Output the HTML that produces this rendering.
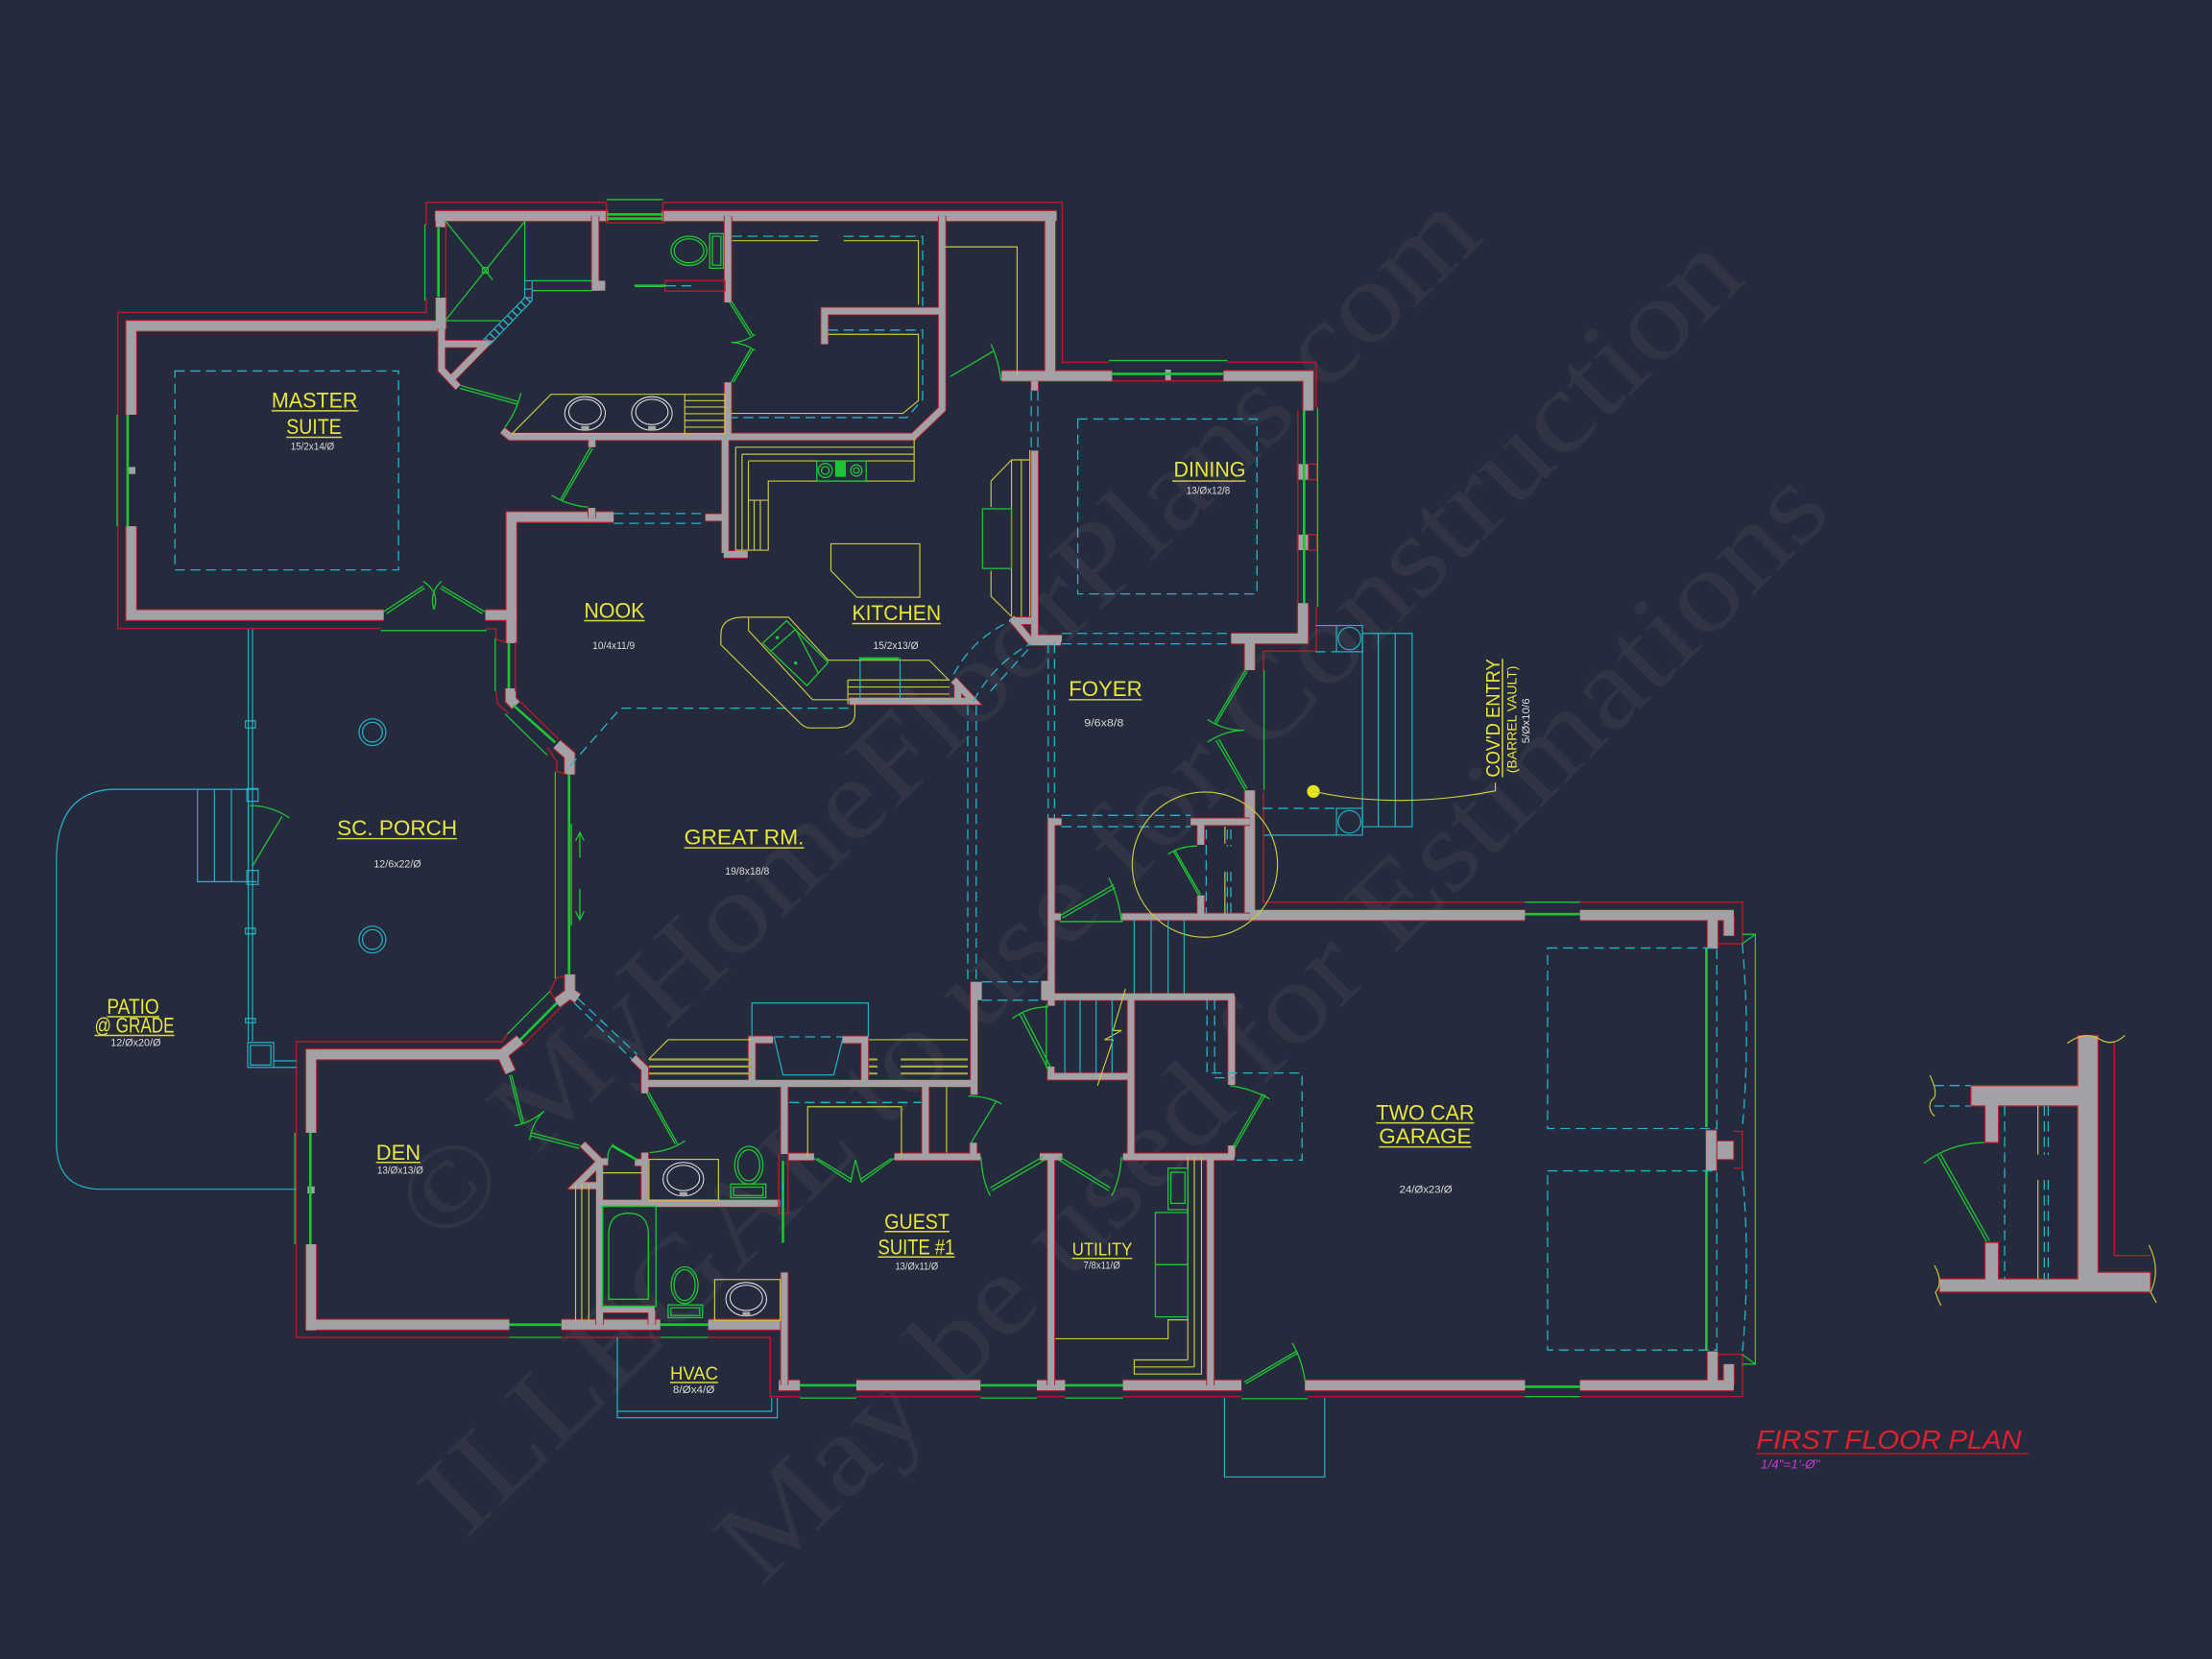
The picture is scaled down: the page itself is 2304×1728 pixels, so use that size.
<!DOCTYPE html>
<html><head><meta charset="utf-8"><title>First Floor Plan</title>
<style>
html,body{margin:0;padding:0;background:#252a3c}
svg{display:block}
text{font-family:"Liberation Sans",sans-serif}
.wm text{font-family:"Liberation Serif",serif;fill:#fff;fill-opacity:.05}
.lb{fill:#e6e63c;font-size:15px}
.dm{fill:#dcdcdc;font-size:7.5px}
.n{fill:none}
.r{fill:none;stroke:#b01c2a;stroke-width:1}
.g{fill:none;stroke:#1fc436;stroke-width:.9}
.G{fill:none;stroke:#1fc436;stroke-width:1.8}
.y{fill:none;stroke:#c9c940;stroke-width:.8}
.Y{fill:none;stroke:#a8a83c;stroke-width:1.5}
.t{fill:none;stroke:#25b4c6;stroke-width:.8}
.d{fill:none;stroke:#25b4c6;stroke-width:.9;stroke-dasharray:7 4}
.w{fill:none;stroke:#e4e4e4;stroke-width:.7}
.u{fill:none;stroke:#d8d83c;stroke-width:1}
</style></head><body>
<svg xmlns="http://www.w3.org/2000/svg" width="2304" height="1728" viewBox="0 0 1568 1176">
<rect width="1568" height="1176" fill="#252a3c"/>
<g class="wm" font-size="82">
<text transform="translate(312,885) rotate(-44)" textLength="1030" lengthAdjust="spacingAndGlyphs">© MyHomeFloorPlans.com</text>
<text transform="translate(330,1092) rotate(-44.5)" textLength="1275" lengthAdjust="spacingAndGlyphs">ILLEGAL to use for Construction</text>
<text transform="translate(540,1125) rotate(-45)" textLength="1075" lengthAdjust="spacingAndGlyphs">May be used for Estimations</text>
</g>
<defs>
<g id="W1">
<path d="M308.500,153.100H431M469,153.100H749M744.400,153V266"/>
<path d="M316,231H93V294M93,373V436H272"/>
<path d="M710,266.500H788.300M867.300,266.500H927.400V291M923.600,329V340M923.600,379V390M923.600,427.600V452.600H872.700"/>
<path d="M885.900,452V475M885.900,560.300V648"/>
<path d="M885,648.700H1081M1120,648.700H1229M1225.500,648.700V663.400"/>
<path d="M1214,652V672.500"/>
<path d="M1214,958V982M1225.500,967V982"/>
<path d="M1229,982H1120M1081,982H925M880,982H796M755,982H735M695,982H607M567,982H552"/>
<path d="M220.500,943V882M220.500,803V747.400H356L368.700,737M356,747.400L361.900,760"/>
<path d="M217,939H361M398,939H468M502,939H556"/>
<path d="M344,436H366"/>
<path d="M362.500,456V366.500H435"/>
<path d="M312.500,150V161M312.500,211V233"/>
<path d="M362,488V496L365.700,500M394.700,527.500L403.800,535.400V549"/>
<path d="M404,690.700V704L394.700,711M404,704L409.500,707.700"/>
</g>
<g id="W2">
<path d="M313,233V262L324.800,274.500"/>
<path d="M314,243.800H344.300L319.800,268.800"/>
<path d="M421.900,153V206"/>
<path d="M419.600,202.500H429" stroke-width="7"/>
<path d="M516,153V214.400M516,271V310"/>
<path d="M667.800,153V290L647.400,309.600H361.800L356.100,305"/>
<path d="M584.500,244V220.500H668"/>
<path d="M419.600,311V317M419.500,360V367"/>
<path d="M500,366.800H516"/>
<path d="M514,311V392M513,393H530"/>
<path d="M449,749.700L457.100,757.600V775"/>
<path d="M457,768H691"/>
<path d="M533,768V737H548M613,768V737H597"/>
<path d="M690.500,696V776M690,810V822"/>
<path d="M556,768V818M559,820H577M634,820H695"/>
<path d="M656,768V820"/>
<path d="M556,902V982"/>
<path d="M739,706.600H875M873,706V769M873,812V820"/>
<path d="M801.700,706V820M796,820H875"/>
<path d="M745.200,580V713M745,756V763H802"/>
<path d="M745,820V982M737,820H753"/>
<path d="M858,820V982"/>
<path d="M747,649.900H752M795.100,649.900H886"/>
<path d="M743,582.500H752.500M844,582.500H886M851.200,582V598.900M851.200,634.700V650"/>
<path d="M733.400,270V276.800M733.400,319.400V452.600H752.700M717,440H731M717,438L731,455H752M676,482L690,497H602M679,484V497"/>
<path d="M425,823.500V939M425,853H553M457.100,817V853M412.900,811L425.400,823.500H431M425.400,823.500L408.400,840.400H425M450,824H455"/>
<path d="M425,928H464M462,929V939"/>
</g>
</defs>
<g class="n" stroke="#b01c2a" stroke-width="8.6"><use href="#W1"/></g>
<g class="n" stroke="#a3a1a6" stroke-width="7"><use href="#W1"/></g>
<g class="n" stroke="#b01c2a" stroke-width="6"><use href="#W2"/></g>
<g class="n" stroke="#a3a1a6" stroke-width="4.700"><use href="#W2"/></g>
<rect x="1209" y="801" width="8" height="29" fill="#a3a1a6" stroke="#b01c2a" stroke-width=".7"/>
<rect x="1217" y="808.700" width="12" height="13.300" fill="#a3a1a6" stroke="#b01c2a" stroke-width=".7"/>
<rect x="690" y="696" width="6" height="13" fill="#a3a1a6"/>
<rect x="738" y="695.300" width="9.500" height="13.600" fill="#a3a1a6"/>
<rect x="91" y="331" width="5" height="5" fill="#a3a1a6"/>
<rect x="826" y="262" width="4" height="8" fill="#a3a1a6"/>
<rect x="218" y="841" width="5" height="5" fill="#a3a1a6"/>
<path class="r" d="M302.100,211V221.500H83.500V445.500H270M302.100,160V143.400H429.900M470,143.400H753V256.800H786M870,256.800H933V289M933,430V461.600H895.600V475M895.600,561.400V639.500H1081M1120,639.500H1235.200V669H1217.800M1217.800,960H1235.200V990H1120M1081,990H927M880,990H796M755,990H735M695,990H607M567,990H546V948H502M468,948H398M361,948H210V738.400H356L359.600,733M344,445.800H351.600V453.300L358.500,455"/>
<path class="r" d="M351.600,490L352.800,499L360.700,506M388,529.700L394.700,540V546.800L401.600,549M365.300,455V490M368.700,497.300L396,524M400,691.900L394.700,693L389.800,702.700L393.600,708.900M397,714.500L369.800,741.800M920,291V427.600M927.400,329H933.500V340H927.400M927.400,379H933.500V390H927.400M788.300,270H867.300M316,157V211"/>
<path class="r" d="M471.400,199H513.800V206.400H471.400ZM552,818V860H558.600V818M1229,802H1235V828H1229M429.900,143.400V158H470V143.400"/>
<path class="g" d="M430,141.500H470M786,255.600H870M1081,639.500H1120M1081,990H1120M796,991H755M695,991H735M567,991H607M880,991.500H927M398,948H361M468,948H502M83,294V373M934,289V430M209,803V882M270,447H345M351,452.600V490M358,506L388,535.400M393.600,547V693.700M389.800,702.700L359.600,733M896,475V560M301.200,158.800V213"/>
<path class="G" d="M430,152H470M430,155H470M788,265H867M1081,648H1120M1081,983H1120M755,982H796M695,982H735M567,982H607M361,939H398M468,939H502M90.500,294V373M924.400,291V427.600M220,803V882M310.800,161.500V210.500M360.700,455.600V488M364,500L393.600,526.300M403.400,549V690.700M394.700,711L368.700,737.200M1209.600,672V799M1209.600,830V957"/>
<path class="g" d="M411,590V608M408,596L411,590L414,596M411,630V652M408,646L411,652L414,646M405,584V656"/>
<path class="g" d="M316,157L344.100,191.700L372,157M316,226.800L344.100,191.700L349.300,198.500M372,157V199.600M316,227.300H355M377.700,199H419.600M377.700,206H419.600"/>
<rect class="g" x="342" y="189.600" width="4" height="4"/>
<path class="t" d="M372,199H377.200V213L347,244.500M372,199V211L342.500,241M372,205H377.200M372,211H377.200"/>
<path d="M374.500,212L344.800,243" fill="none" stroke="#25b4c6" stroke-width="5" stroke-dasharray="1 3.500"/>
<path class="G" d="M449.800,202.600H472"/>
<path class="d" d="M472,202.600H494" stroke-width="1.800" stroke-dasharray="8 6"/>
<path class="g" d="M272,433.600L300,415.400M274,435L301,417M343.600,433.600L313,415.400M342,435L312,417M300,412Q312,420 307.600,432M313,412Q304,420 307.600,432"/>
<path class="g" d="M326.600,273.300L367.500,284.700M326,275.300L367,286.700M369.300,278.600Q366,292 358,302.800"/>
<path class="g" d="M517.200,214.400L532,238M518.800,214L533.600,237.500M535.300,237Q527,243 518.300,242.700Q527,243 535.300,248.400M518.300,271L532,247.300M520,271L533.600,247.800"/>
<path class="g" d="M418.500,317L397,354.600M420,318L398.500,355M391,351Q402,358 417,359.500"/>
<path class="g" d="M673.500,267L704,249M702.500,244Q708,256 709.500,269.500"/>
<path class="g" d="M179,614L200,578.600M177,571Q192,571 205,579.700M176,571V615"/>
<path class="g" d="M361.200,762L369.800,796.700M362.700,762L371.300,796.300M364.800,798Q376,796 385.700,787.600M376.600,803L411,812M376,805L410.500,814M385.700,787.600Q377,796 375.500,808"/>
<path class="g" d="M458.300,774.700L478.700,811M460,774.700L480.400,811M485.500,808.700Q475,816 460.500,817"/>
<path class="G" d="M451.500,822.300L433.800,812"/><path class="g" d="M435,811Q430,816 431,822.300"/>
<path class="g" d="M577,821L603,838M579,821L604,836M634,821L610.700,838M632,821L610,836M603,838L606.400,822L610.700,838"/>
<path class="g" d="M688,810.600L706,781M710,782.500Q700,777 686.500,777"/>
<path class="g" d="M739,820L702,842M741,822L703,844M702,847.700Q696,836 695.400,820M751,820L787,842M750,822L786,844M788,847.700Q794,836 795,820"/>
<path class="g" d="M743,758L722.800,718.800M745,757L725,718M717.700,722Q728,714 743,713.700M741.700,712V757"/>
<path class="g" d="M752,648.800L789.500,627.200M753,650.800L790.500,629.200M786,622.200Q793,636 795,653.300M751,653.300H795.800"/>
<path class="g" d="M850,635L832,603.600M851,634L833,603M828,605.500Q836,600 848.600,599.700"/>
<path class="g" d="M883,474.700L861,511.800M884,476L862,513M883,560.600L862,524.700M884,559L864,524M856,510Q868,518 881.800,517.600Q868,518 856,526"/>
<path class="g" d="M874,812.600L895.400,775.400M875,814L897,776M872,769.600Q888,772 900,779"/>
<path class="g" d="M881.800,979.700L919,957.800M883,981L920,959M916,952Q923,964 925,978.600"/>
<path class="g" d="M1235,662.300H1244.300V967H1235M1235,669L1244.300,662.300M1235,960L1244.300,967"/>
<path class="d" d="M1235,669Q1241,735 1235,800M1235,830Q1241,895 1235,960" stroke-dasharray="5 4"/>
<path class="G" d="M555,823V881" stroke-width="1.200"/>
<path class="d" d="M555,838V860" stroke-width="1.600"/>
<rect class="d" x="124" y="263" width="158.500" height="141"/>
<rect class="d" x="764" y="297" width="127" height="124"/>
<rect class="d" x="1097" y="672" width="120" height="128"/>
<rect class="d" x="1097" y="830" width="120" height="127"/>
<path class="d" d="M404,543L440,502H602M686,500V696M692,500V696M696,696H738M696,709H738M435,364H500M435,371H500"/>
<path class="d" d="M743,456V580M747.500,456V580M752.700,449H872.700M752.700,456.400H872.700M752.500,578H844M752.500,586H844"/>
<path class="d" d="M409.500,707.700L451.500,747.400M407.200,711.100L448,750.800"/>
<path class="d" d="M676,478Q690,452 717,440M690,497Q705,470 731,456M702,490L731,458" stroke-dasharray="5 4"/>
<path class="d" d="M519,167.500H580M598,167.500H654V217M587,234H654V283L643,296H518"/>
<path class="d" d="M559.500,781.500H653" stroke-width="1.400"/>
<path class="d" d="M855.600,709V760.600H923V822.300H875M861,709V764H875M855,588V648M870,588V600M872.500,588V600M870,618V648M872.500,618V648"/>
<path class="d" d="M548.700,735H597.700M731,277V319M735.700,277V319"/>
<path class="d" d="M895,573H947M932.600,462H947"/>
<path class="y" d="M519,170.600H580M598,170.600H651V216M587,237H651V284L640,293H518"/>
<path class="y" d="M670,175H721V266"/>
<path class="y" d="M390.600,279.500H513.800V307.400H363ZM485.400,279.500V307.400M485.400,284H513.800M485.400,288.500H513.800M485.400,293.300H513.800M485.400,298H513.800M485.400,302.800H513.800"/>
<path class="y" d="M521.500,317H648M526,322H648M530.500,326.700H648M648,311V341H544.600V390H521.500V317M526,322V390M530.500,327V390M530.500,354.600H544.600M534.600,354.600V390M539,354.600V390"/>
<path class="y" d="M589,385.500H652V423.400H607.500L589,404.500Z"/>
<path class="y" d="M717,326L702.500,341V359.500M702.500,404.500V422.700L717,437M717,326V437M724,326V437M730,319V437M717,326H730"/>
<path class="y" d="M526,437.500Q511,438 511,450V457L567.600,513Q571,516 574,516H591.400Q606,516 606,506V499M530.600,437.500V447L576,496H602M526,437.500H559L587,468H658.700L673,482.500M601,482H673M601,487H673M601,492H673M601,482V499"/>
<path class="y" d="M459.700,751L473.600,737H533M616,737H686"/>
<path class="Y" d="M460,751H533M460,756H533M460,761H533M616,751H622M616,756H622M616,761H622M638.500,751H686M638.500,756H686M638.500,761H686"/>
<path class="y" d="M671,770V817M572.500,820V784.500H639V820"/>
<path class="y" d="M408,840V936M412.400,840V936M417.400,840V936M427,831.400H455"/>
<rect class="y" x="460" y="821.800" width="49.300" height="29"/>
<rect class="y" x="506.600" y="907" width="46.400" height="29"/>
<path class="y" d="M842,820V964M846.600,820V969M851.700,820V974H804V964H842M804,969H846.600M748,949H828V935.600H842"/>
<path class="y" d="M797.800,701L789,730.500H795L783,737H789L778,769.600"/>
<circle class="y" cx="854.100" cy="612.900" r="51.500"/>
<path class="y" d="M868.300,586V598M868.300,618V648"/>
<ellipse class="w" cx="414.700" cy="293.100" rx="14.400" ry="11.900"/><ellipse class="w" cx="414.700" cy="292" rx="11.500" ry="9"/>
<ellipse class="w" cx="462.100" cy="293.100" rx="14.400" ry="11.900"/><ellipse class="w" cx="462.100" cy="292" rx="11.500" ry="9"/>
<rect x="412" y="302" width="5.500" height="3" fill="#a8a8a8"/><rect x="459.400" y="302" width="5.500" height="3" fill="#a8a8a8"/>
<ellipse class="w" cx="484.400" cy="835.900" rx="14.400" ry="11.900"/><ellipse class="w" cx="484.400" cy="835" rx="11.500" ry="9"/>
<ellipse class="w" cx="529" cy="921" rx="14.400" ry="11.900"/><ellipse class="w" cx="529" cy="920" rx="11.500" ry="9"/>
<rect x="481.700" y="845" width="5.500" height="3" fill="#a8a8a8"/><rect x="526.300" y="930" width="5.500" height="3" fill="#a8a8a8"/>
<ellipse class="g" cx="488.400" cy="177.800" rx="12.700" ry="10.400"/><ellipse class="g" cx="488.400" cy="177.800" rx="10.500" ry="8.500"/>
<rect class="g" x="503.100" y="165.600" width="9.600" height="24.500"/><rect class="g" x="505" y="167.500" width="6" height="20.500"/>
<rect class="g" x="579" y="326.700" width="35" height="14.300"/>
<circle class="g" cx="585" cy="333.500" r="5"/><circle class="g" cx="585" cy="333.500" r="2.800"/>
<circle class="g" cx="607" cy="333.500" r="4"/><circle class="g" cx="607" cy="333.500" r="2"/>
<rect x="592" y="327" width="7.600" height="11" fill="#1fc436"/>
<rect class="g" x="696.500" y="360.700" width="20.500" height="42.300"/>
<path class="g" d="M557.600,440L587,469.600L572,486L540.600,456ZM564,446L546,462M564,446L580,477M549,465"/>
<path class="G" d="M609,466.800H637"/>
<path class="t" d="M609.700,466V496M638,466V496"/>
<circle cx="551" cy="452" r="1.200" fill="#1fc436"/><circle cx="564" cy="470" r="1.200" fill="#1fc436"/>
<ellipse class="g" cx="530.800" cy="826" rx="10" ry="13.400"/><ellipse class="g" cx="530.800" cy="826" rx="7.800" ry="11"/>
<rect class="g" x="518" y="839.300" width="24.900" height="9.700"/><rect class="g" x="520" y="841.500" width="20.900" height="6"/>
<rect class="g" x="427" y="855" width="38" height="71"/>
<path class="g" d="M431.500,921V875Q431.500,860 445.500,860Q459.600,860 459.600,875V921Z"/>
<ellipse class="g" cx="485.300" cy="911" rx="9.500" ry="13"/><ellipse class="g" cx="485.300" cy="911" rx="7.500" ry="11"/>
<rect class="g" x="473.600" y="925" width="24.400" height="9"/><rect class="g" x="475.600" y="927" width="20.400" height="5.500"/>
<rect class="g" x="819" y="859.500" width="23" height="37"/><rect class="g" x="819" y="896.500" width="23" height="37"/>
<rect class="g" x="828" y="828" width="14" height="29.500"/><rect class="g" x="830" y="831" width="10" height="22"/>
<path class="t" d="M176,446V738M179,446V738M175.600,739H194V756.600H175.600ZM177.500,741H192V755H177.500ZM194,752H210M194,756.600H210"/>
<path d="M175,559H183V568H175ZM175,617H183V627H175ZM174,511H181V516H174ZM174,722H181V725H174ZM174,658H181V662H174Z" class="t"/>
<path class="t" d="M183,559.500H79Q40,562 40,610V810Q40,843 72,843H210M140,559.500V625H182M152,559.500V625M164,559.500V625"/>
<circle class="t" cx="264" cy="519" r="9.500"/><circle class="t" cx="264" cy="519" r="7"/>
<circle class="t" cx="264" cy="666" r="9.500"/><circle class="t" cx="264" cy="666" r="7"/>
<path class="t" d="M533,735V711H615.500V735M548.700,735L555,762H591L597.700,735"/>
<path class="t" d="M437.600,948V1005H551V991M437.600,1000.400H547V991"/>
<path class="t" d="M868,991V1047H939V991"/>
<path class="t" d="M804,652.400V704.300M816,652.400V704.300M828,652.400V704.300M839.400,652.400V704.300M754.800,709V761M765.600,709V761M777,709V761M788.300,709V761"/>
<rect class="t" x="947.400" y="443.400" width="18.400" height="18.600"/><circle class="t" cx="956.600" cy="452.600" r="8"/>
<rect class="t" x="947.400" y="573" width="18.400" height="19"/><circle class="t" cx="956.600" cy="582.500" r="8"/>
<path class="t" d="M932.600,443.400H947.400M896,592H947.400M965.800,449H1001V586H965.800V449M977,449V586M989,449V586"/>
<circle cx="931" cy="561" r="4.500" fill="#e6e61e"/>
<path class="y" d="M931,561Q990,574 1060,560.600V554.700"/>
<!-- Detail -->
<path d="M1472.700,733.900H1487.300V901.800H1524.500V916H1374.700V906.500H1407V880.700H1416.700V906.500H1472.700V784H1416.700V810H1407V784H1397V769.500H1472.700Z" fill="#a3a1a6" stroke="#b01c2a" stroke-width=".9"/>
<path class="r" d="M1498.800,738.400V890H1524.500"/>
<path class="d" d="M1371,769.500H1397M1371,784H1397M1421,784V906.500M1449.100,784V818.500M1451.900,784V818.500M1449.100,836.400V906.500M1451.900,836.400V906.500" stroke-dasharray="6 4"/>
<path class="y" d="M1444.600,784V818.500M1444.600,836.400V906.500M1368,762.200Q1375,777 1369,780Q1366,786 1371.300,791.300M1465.500,739.600Q1478,730 1489,737Q1498,742 1506.300,733.900M1371.300,897Q1378,909 1372,916Q1374,922 1376,925.600M1523.300,882.500Q1532,900 1524.500,916L1528.500,923.300"/>
<path class="g" d="M1408.300,880.200L1373.600,819M1410.300,879.500L1375.600,818M1363.800,824.600Q1382,810.500 1406.500,809.900"/>
<!-- labels -->
<g class="lb">
<text x="192.500" y="289" textLength="61" lengthAdjust="spacingAndGlyphs">MASTER</text>
<text x="203" y="307.700" textLength="39" lengthAdjust="spacingAndGlyphs">SUITE</text>
<text x="414" y="438" textLength="43" lengthAdjust="spacingAndGlyphs">NOOK</text>
<text x="604" y="439.700" textLength="63" lengthAdjust="spacingAndGlyphs">KITCHEN</text>
<text x="832" y="338" textLength="51" lengthAdjust="spacingAndGlyphs">DINING</text>
<text x="757.600" y="493.400" textLength="52" lengthAdjust="spacingAndGlyphs">FOYER</text>
<text x="239" y="592" textLength="85" lengthAdjust="spacingAndGlyphs">SC. PORCH</text>
<text x="485" y="598.500" textLength="85" lengthAdjust="spacingAndGlyphs">GREAT RM.</text>
<text x="75.800" y="718.700" textLength="37" lengthAdjust="spacingAndGlyphs">PATIO</text>
<text x="67" y="732" textLength="56.600" lengthAdjust="spacingAndGlyphs">@ GRADE</text>
<text x="266.600" y="822" textLength="31.500" lengthAdjust="spacingAndGlyphs">DEN</text>
<text x="627" y="871" textLength="46" lengthAdjust="spacingAndGlyphs">GUEST</text>
<text x="622.400" y="889" textLength="54.300" lengthAdjust="spacingAndGlyphs">SUITE #1</text>
<text x="760" y="890" textLength="42.600" font-size="12.500" lengthAdjust="spacingAndGlyphs">UTILITY</text>
<text x="475" y="978" textLength="34" font-size="13" lengthAdjust="spacingAndGlyphs">HVAC</text>
<text x="975.500" y="794" textLength="69.500" lengthAdjust="spacingAndGlyphs">TWO CAR</text>
<text x="977.500" y="810.600" textLength="65.500" lengthAdjust="spacingAndGlyphs">GARAGE</text>
<text transform="translate(1063,551) rotate(-90)" textLength="84" font-size="14" lengthAdjust="spacingAndGlyphs">COV'D ENTRY</text>
<text transform="translate(1075,548) rotate(-90)" textLength="76" font-size="9.500" lengthAdjust="spacingAndGlyphs">(BARREL VAULT)</text>
</g>
<path class="u" d="M192.500,291.200H254M203,310H242.500M414,440H457M604,442H667M831,341H883M757.600,496H809.500M239,594.500H324M485,601H570M75.800,720.700H113M67,734H123.600M266.600,824H298M627,873H673M622.400,891H676.700M760,892H802.600M475,980H509M975.500,796H1045M977.500,813H1043M1065,467V551"/>
<g class="dm">
<text x="206" y="319" textLength="31" lengthAdjust="spacingAndGlyphs">15/2x14/Ø</text>
<text x="420" y="460" textLength="30" lengthAdjust="spacingAndGlyphs">10/4x11/9</text>
<text x="619" y="460" textLength="32" lengthAdjust="spacingAndGlyphs">15/2x13/Ø</text>
<text x="841" y="350" textLength="31" lengthAdjust="spacingAndGlyphs">13/Øx12/8</text>
<text x="768.500" y="515" textLength="28" lengthAdjust="spacingAndGlyphs">9/6x8/8</text>
<text x="265" y="615" textLength="33.500" lengthAdjust="spacingAndGlyphs">12/6x22/Ø</text>
<text x="514" y="620" textLength="31.400" lengthAdjust="spacingAndGlyphs">19/8x18/8</text>
<text x="78.400" y="741.400" textLength="35.600" lengthAdjust="spacingAndGlyphs">12/Øx20/Ø</text>
<text x="267.400" y="832" textLength="32.600" lengthAdjust="spacingAndGlyphs">13/Øx13/Ø</text>
<text x="634.600" y="900" textLength="30.400" lengthAdjust="spacingAndGlyphs">13/Øx11/Ø</text>
<text x="768" y="899.500" textLength="26" lengthAdjust="spacingAndGlyphs">7/8x11/Ø</text>
<text x="477" y="987.500" textLength="29.600" lengthAdjust="spacingAndGlyphs">8/Øx4/Ø</text>
<text x="992" y="845.700" textLength="37.400" lengthAdjust="spacingAndGlyphs">24/Øx23/Ø</text>
<text transform="translate(1084,527) rotate(-90)" textLength="32" lengthAdjust="spacingAndGlyphs">5/Øx10/6</text>
</g>
<text x="1245" y="1027" textLength="188" font-size="19" font-style="italic" fill="#e0202e" lengthAdjust="spacingAndGlyphs">FIRST FLOOR PLAN</text>
<path d="M1245,1030.500H1438" stroke="#b01c2a" stroke-width="1" fill="none"/>
<text x="1248" y="1041" textLength="42" font-size="8.500" font-style="italic" fill="#c63ad8" lengthAdjust="spacingAndGlyphs">1/4"=1'-Ø"</text>
</svg>
</body></html>
